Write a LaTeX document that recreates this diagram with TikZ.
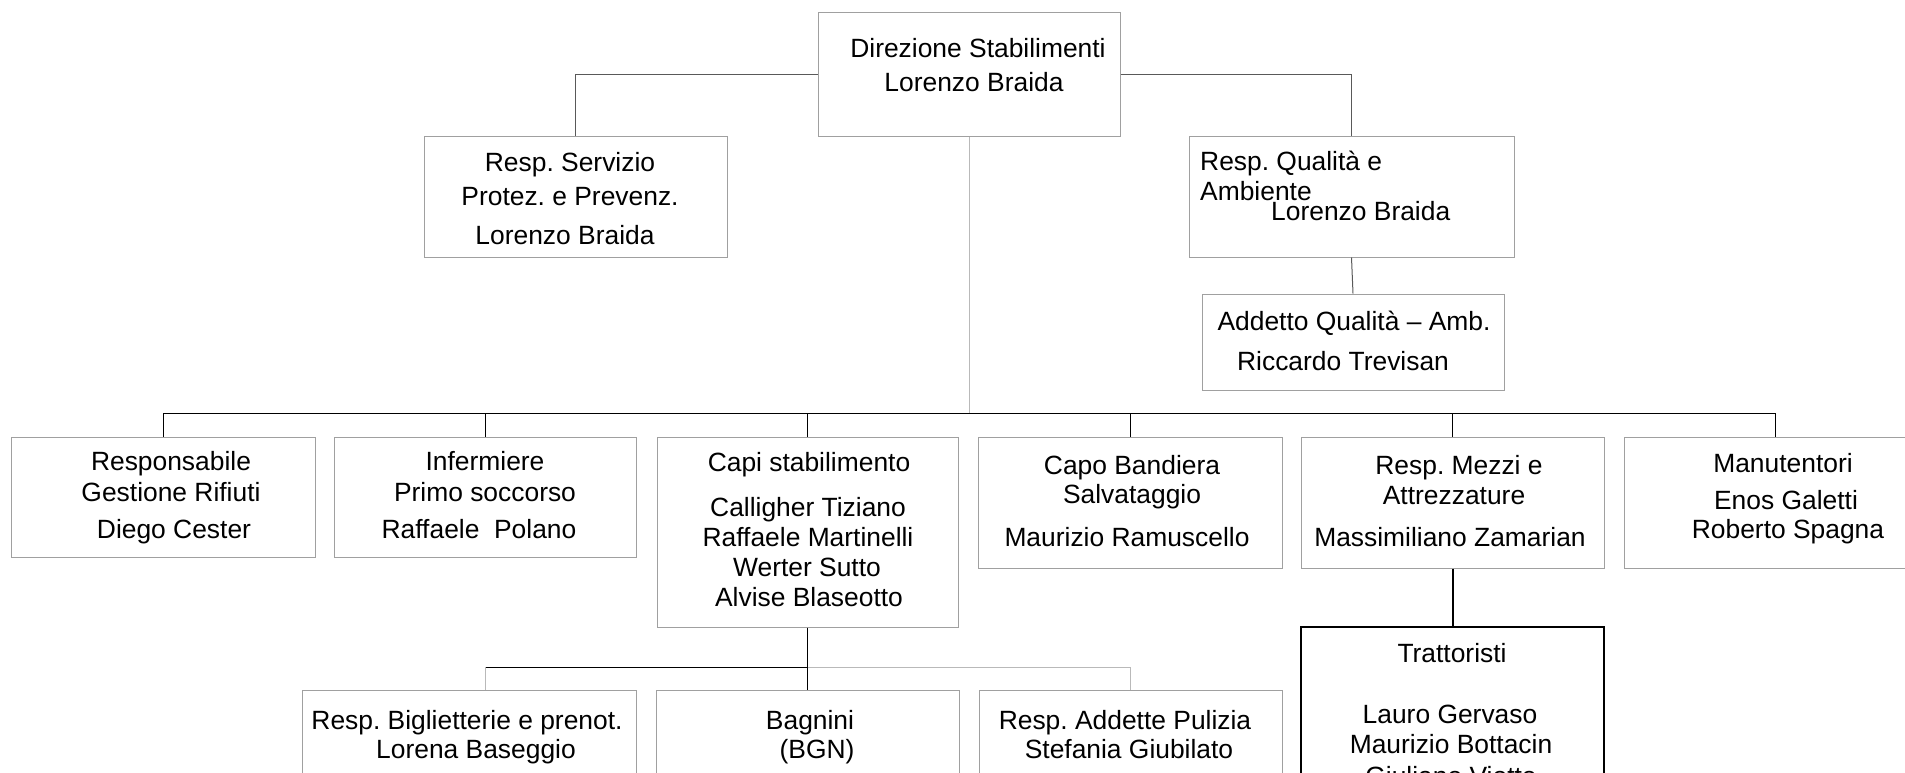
\documentclass[tikz,border=0pt]{standalone}
\usepackage{fontspec}
\setmainfont{Liberation Sans}
\usetikzlibrary{fit,calc}
\definecolor{boxgray}{RGB}{160,160,160}
\definecolor{linegray}{RGB}{185,185,185}
\newcommand\tx[4]{\node[txt] (#1) at (#2,#3) {#4};}
\newcommand\lx[4]{\node[ltxt] (#1) at (#2,#3) {#4};}
\frenchspacing
\begin{document}
\begin{tikzpicture}[x=1pt,y=-1pt,
  box/.style={draw=boxgray, line width=1pt, inner sep=0pt},
  darkbox/.style={draw=black, line width=2pt, inner sep=0pt},
  txt/.style={inner sep=0pt, anchor=base, font=\fontsize{26.4}{30}\selectfont},
  ltxt/.style={txt, anchor=base west},
  conn/.style={draw=black, line width=1pt},
  softconn/.style={draw=black!65, line width=1pt},
  lightconn/.style={draw=linegray, line width=1pt},
  thickconn/.style={draw=black, line width=2pt}]
\useasboundingbox (0,0) rectangle (1905,773);
\fill[white] (0,0) rectangle (1905,773);
\clip (0,0) rectangle (1905,773);

% boxes
\node[box, fit={(818,13) (1120,137)}] (top) {};
\node[box, fit={(424,137) (727,257)}] (srv) {};
\node[box, fit={(1189,137) (1514,257)}] (qual) {};
\node[box, fit={(1202,294) (1504,390)}] (add) {};
\node[box, fit={(11,437) (315,557)}] (b1) {};
\node[box, fit={(334,437) (636,557)}] (b2) {};
\node[box, fit={(657,437) (958,627)}] (b3) {};
\node[box, fit={(978,437) (1282,568)}] (b4) {};
\node[box, fit={(1301,437) (1604,568)}] (b5) {};
\node[box, fit={(1624,437) (1926,568)}] (b6) {};
\node[darkbox, fit={(1301,627) (1604,800)}] (trat) {};
\node[box, fit={(302,690) (636,800)}] (c1) {};
\node[box, fit={(656,690) (959,800)}] (c2) {};
\node[box, fit={(979,690) (1282,800)}] (c3) {};

% connectors
\draw[softconn] (top.west) -| (srv.north);
\draw[softconn] (top.east) -| (qual.north);
\draw[softconn] (qual.south) -- (add.north);
\coordinate (bus) at (968,413);
\draw[lightconn] (top.south) -- (top.south |- bus);
\draw[conn] (b1.north |- bus) -- (b6.north |- bus);
\foreach \b in {b1,b2,b3,b4,b5,b6} \draw[conn] (\b.north |- bus) -- (\b.north);
\draw[thickconn] (b5.south) -- (trat.north);
\coordinate (j1) at (485,667);
\coordinate (j2) at (b3.south |- j1);
\draw[conn] (b3.south) -- (j2);
\draw[conn] (j1) -- (j2);
\draw[lightconn] (j2) -- (c3.north |- j1);
\draw[lightconn] (j1) -- (j1 |- c1.north);
\draw[conn] (j2) -- (c2.north);
\draw[lightconn] (c3.north |- j1) -- (c3.north);

% texts
\tx{t1}{978}{58}{Direzione Stabilimenti}
\tx{t2}{974}{92}{Lorenzo Braida}
\tx{s1}{570}{171}{Resp. Servizio}
\tx{s2}{570}{205}{Protez. e Prevenz.}
\tx{s3}{565}{244}{Lorenzo Braida}
\lx{q1}{1200}{170}{Resp. Qualità e}
\lx{q2}{1200}{200}{Ambiente}
\lx{q3}{1271}{220}{Lorenzo Braida}
\tx{a1}{1354}{330}{Addetto Qualità – Amb.}
\tx{a2}{1343}{370}{Riccardo Trevisan}
\tx{r11}{171}{470}{Responsabile}
\tx{r12}{171}{501}{Gestione Rifiuti}
\tx{r13}{174}{538}{Diego Cester}
\tx{r21}{485}{470}{Infermiere}
\tx{r22}{485}{501}{Primo soccorso}
\tx{r23}{479}{538}{Raffaele\ \ Polano}
\tx{r31}{809}{471}{Capi stabilimento}
\tx{r32}{808}{516}{Calligher Tiziano}
\tx{r33}{808}{546}{Raffaele Martinelli}
\tx{r34}{807}{576}{Werter Sutto}
\tx{r35}{809}{606}{Alvise Blaseotto}
\tx{r41}{1132}{474}{Capo Bandiera}
\tx{r42}{1132}{503}{Salvataggio}
\tx{r43}{1127}{546}{Maurizio Ramuscello}
\tx{r51}{1459}{474}{Resp. Mezzi e}
\tx{r52}{1454}{504}{Attrezzature}
\tx{r53}{1450}{546}{Massimiliano Zamarian}
\tx{r61}{1783}{472}{Manutentori}
\tx{r62}{1786}{509}{Enos Galetti}
\tx{r63}{1788}{538}{Roberto Spagna}
\tx{k1}{1452}{662}{Trattoristi}
\tx{k2}{1450}{723}{Lauro Gervaso}
\tx{k3}{1451}{753}{Maurizio Bottacin}
\tx{k4}{1451}{785}{Giuliano Viotto}
\tx{u11}{467}{729}{Resp. Biglietterie e prenot.}
\tx{u12}{476}{758}{Lorena Baseggio}
\tx{u21}{810}{729}{Bagnini}
\tx{u22}{817}{758}{(BGN)}
\tx{u31}{1125}{729}{Resp. Addette Pulizia}
\tx{u32}{1129}{758}{Stefania Giubilato}
\end{tikzpicture}
\end{document}
